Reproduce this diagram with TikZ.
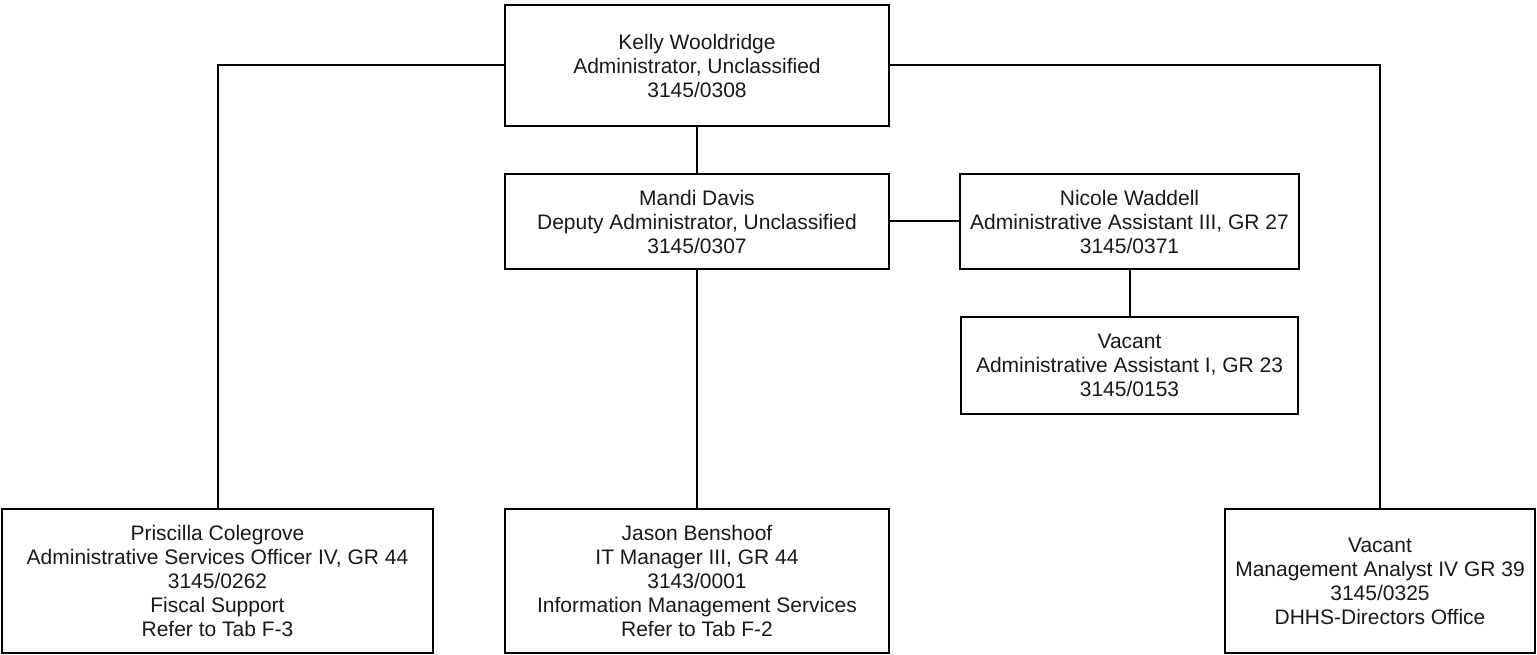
\documentclass[tikz,border=0pt]{standalone}
\usepackage{fontspec}
\setmainfont{Liberation Sans}
\begin{document}
\begin{tikzpicture}[x=1pt,y=-1pt,
  posbox/.style={draw=black, line width=2pt, fill=white, inner sep=0pt, align=center,
    font=\fontsize{21}{24}\selectfont, text=black!90},
  link/.style={draw=black, line width=2pt}]
\useasboundingbox (0,0) rectangle (1537,655);
\node[posbox, minimum width=384pt, minimum height=121pt] (kelly) at (697,65.5)
  {Kelly Wooldridge\\Administrator, Unclassified\\3145/0308};
\node[posbox, minimum width=384pt, minimum height=95pt] (mandi) at (697,221.5)
  {Mandi Davis\\Deputy Administrator, Unclassified\\3145/0307};
\node[posbox, minimum width=339pt, minimum height=95pt] (nicole) at (1129.5,221.5)
  {Nicole Waddell\\Administrative Assistant III, GR 27\\3145/0371};
\node[posbox, minimum width=337pt, minimum height=97pt] (vacaa) at (1129.5,365.5)
  {Vacant\\Administrative Assistant I, GR 23\\3145/0153};
\node[posbox, minimum width=431pt, minimum height=144pt] (pris) at (217.5,581)
  {Priscilla Colegrove\\Administrative Services Officer IV, GR 44\\3145/0262\\Fiscal Support\\Refer to Tab F-3};
\node[posbox, minimum width=384pt, minimum height=144pt] (jason) at (697,581)
  {Jason Benshoof\\IT Manager III, GR 44\\3143/0001\\Information Management Services\\Refer to Tab F-2};
\node[posbox, minimum width=310pt, minimum height=144pt] (vacma) at (1380,581)
  {Vacant\\Management Analyst IV GR 39\\3145/0325\\DHHS-Directors Office};
\draw[link] (kelly.west) -| (pris.north);
\draw[link] (kelly.east) -| (vacma.north);
\draw[link] (kelly) -- (mandi);
\draw[link] (mandi) -- (jason);
\draw[link] (mandi) -- (nicole);
\draw[link] (nicole) -- (vacaa);
\end{tikzpicture}
\end{document}
